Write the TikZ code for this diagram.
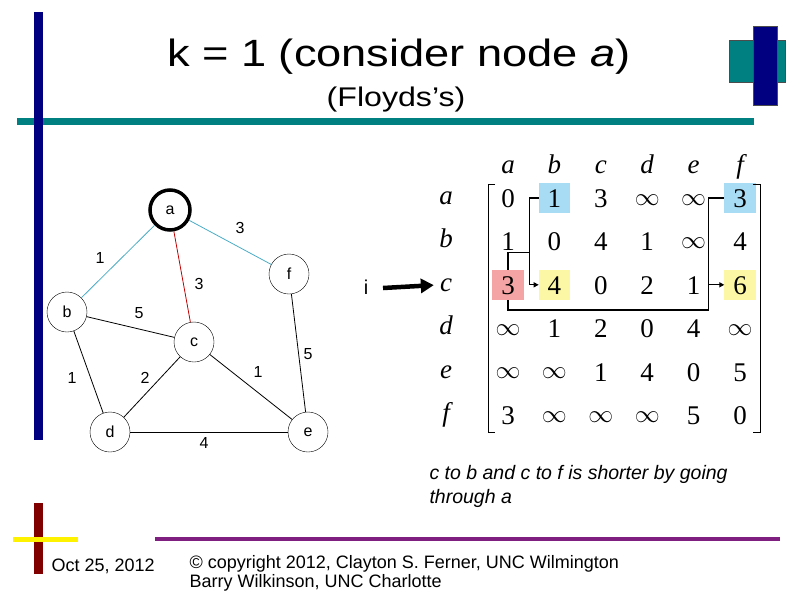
\documentclass[tikz,border=0pt]{standalone}
\usepackage{fontspec}
\setmainfont{Liberation Sans}
\newfontfamily\timesrm{Liberation Serif}
\usetikzlibrary{arrows.meta,backgrounds,calc}
\definecolor{slide-navy}{HTML}{000080}
\definecolor{slide-teal}{HTML}{008080}
\definecolor{edge-cyan}{HTML}{4BACC6}
\definecolor{edge-red}{HTML}{C00000}
\definecolor{hl-blue}{HTML}{A8DCF4}
\definecolor{hl-red}{HTML}{F4A4A4}
\definecolor{hl-yellow}{HTML}{FBF7A4}
\definecolor{foot-red}{HTML}{800000}
\definecolor{foot-purple}{HTML}{7F1F7F}
\newcommand\infy{\raisebox{2.5pt}{$\infty$}}

\begin{document}
\begin{tikzpicture}[x=1pt,y=-1pt,
  vtx/.style={draw,circle,minimum size=40pt,inner sep=0pt,font=\fontsize{16}{18}\selectfont},
  wlab/.style={font=\fontsize{16}{18}\selectfont},
  entry/.style={minimum width=31pt,minimum height=30pt,inner sep=0pt,text height=19pt,text depth=0pt,
                font=\timesrm\fontsize{27}{30}\selectfont},
  hdr/.style={inner sep=0pt,text height=19pt,text depth=6pt,font=\timesrm\itshape\fontsize{27}{30}\selectfont},
  link/.style={line width=1.3pt}]
  \useasboundingbox (0,0) rectangle (794,595);
  % slide frame
  \fill[slide-teal] (17,118) rectangle (754,125);
  \fill[slide-navy] (34,12) rectangle (43,440);
  \filldraw[fill=slide-teal,draw=black!70] (729,40) rectangle (785,82);
  \filldraw[fill=slide-navy,draw=black!70] (753,26) rectangle (777,105);
  \node[font=\fontsize{38}{40}\selectfont,xscale=1.19] (title) at (399,57) {k = 1 (consider node \textit{a})};
  \node[font=\fontsize{27}{30}\selectfont,xscale=1.19] (subtitle) at (396,100) {(Floyds’s)};

  % graph
  \node[vtx,line width=3.5pt] (a) at (170,210) {a};
  \node[vtx] (f) at (289,274) {f};
  \node[vtx] (b) at (67,312) {b};
  \node[vtx] (c) at (194,342) {c};
  \node[vtx] (d) at (110,432) {d};
  \node[vtx] (e) at (308,432) {e};
  \foreach \u/\v/\c in {a/b/edge-cyan, a/f/edge-cyan, a/c/edge-red, b/c/black, b/d/black,
                        c/d/black, c/e/black, f/e/black, d/e/black}
    \draw[\c,line width=0.8pt] (\u) -- (\v);
  \foreach \n/\x/\y/\w in {ab/100/258/1, af/240/228/3, ac/199/284/3, bc/139/313/5, bd/72/378/1,
                           cd/145/378/2, ce/258/372/1, fe/308/354/5, de/204/443/4}
    \node[wlab] (w-\n) at (\x,\y) {\w};
  \node[font=\fontsize{20}{22}\selectfont] (i) at (366,287) {i};

  % distance matrix
  \foreach [count=\c] \l in {a,b,c,d,e,f}
    \node[hdr] (h-\l) at ({508+(\c-1)*46.4},167) {\l};
  \foreach [count=\r] \rn/\vals in {a/{0,1,3,\infy,\infy,3}, b/{1,0,4,1,\infy,4}, c/{3,4,0,2,1,6},
                                    d/{\infy,1,2,0,4,\infy}, e/{\infy,\infy,1,4,0,5}, f/{3,\infy,\infy,\infy,5,0}}{
    \node[hdr] (r-\rn) at (446,{198+(\r-1)*43.4}) {\rn};
    \foreach [count=\c] \v in \vals
      \node[entry] (m-\r-\c) at ({508+(\c-1)*46.4},{198+(\r-1)*43.4}) {\v};
  }
  \draw[line width=1pt] (495,184) -- (488,184) -- (488,432) -- (495,432);
  \draw[line width=1pt] (753,184) -- (760,184) -- (760,432) -- (753,432);
  \begin{scope}[on background layer]
    \foreach \n/\c in {1-2/hl-blue, 1-6/hl-blue, 3-1/hl-red, 3-2/hl-yellow, 3-6/hl-yellow}
      \fill[\c] (m-\n.south west) rectangle (m-\n.north east);
  \end{scope}
  \draw[link,-{Triangle[length=5pt,width=5pt]}] (m-1-2.west) -- ++(-9,0) coordinate (jab) |- (m-3-2.west);
  \draw[link] (m-3-1.north) -- ++(0,-17) -| (jab);
  \draw[link] (m-3-1.south) -- ++(0,10) -| ([xshift=-16pt]m-1-6.west) coordinate (jaf) -- (m-1-6.west);
  \draw[link,-{Triangle[length=5pt,width=5pt]}] (jaf |- m-3-6.west) -- (m-3-6.west);
  \coordinate (ptr) at (383,288);
  \draw[line width=4.5pt,-{Triangle[length=13pt,width=14pt]},shorten >=6pt] (ptr) -- (r-c.west);

  \node[anchor=north west,align=left,font=\itshape\fontsize{19.5}{24}\selectfont] (note) at (426,462)
    {c to b and c to f is shorter by going\\through a};

  % footer
  \fill[foot-red] (34,503) rectangle (43,574);
  \fill[yellow] (13,537) rectangle (78,542);
  \fill[foot-purple] (155,537) rectangle (780,541);
  \node[anchor=west,font=\fontsize{18}{19}\selectfont] (date) at (48,566) {Oct 25, 2012};
  \node[anchor=north west,align=left,font=\fontsize{18}{19}\selectfont] (copy) at (186,552)
    {© copyright 2012, Clayton S. Ferner, UNC Wilmington\\Barry Wilkinson, UNC Charlotte};
\end{tikzpicture}
\end{document}
